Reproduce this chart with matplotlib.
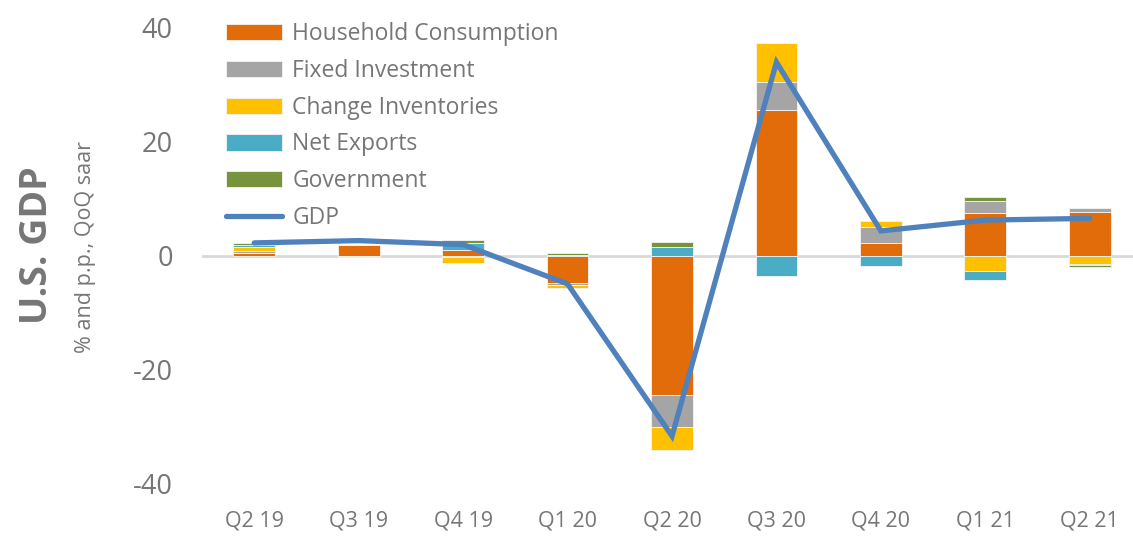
import numpy as np
import matplotlib
matplotlib.use("Agg")
import matplotlib.pyplot as plt

plt.rcParams['font.family'] = ['Open Sans', 'DejaVu Sans']
plt.rcParams['axes.unicode_minus'] = False

quarters = ['Q2 19', 'Q3 19', 'Q4 19', 'Q1 20', 'Q2 20', 'Q3 20', 'Q4 20', 'Q1 21', 'Q2 21']
household = [0.45, 2.0, 1.0, -4.7, -24.4, 25.6, 2.2, 7.5, 7.8]
fixed_inv = [0.45, 0.0, -0.1, -0.4, -5.6, 5.0, 2.9, 2.2, 0.6]
inventories = [0.6, -0.2, -1.2, -0.6, -4.1, 6.8, 1.05, -2.6, -1.4]
net_exports = [0.4, 0.0, 1.35, 0.15, 1.5, -3.5, -1.7, -1.6, -0.25]
government = [0.45, 0.0, 0.45, 0.45, 1.0, 0.0, -0.1, 0.7, -0.35]
gdp = [2.3, 2.7, 2.0, -4.9, -31.6, 34.0, 4.4, 6.3, 6.6]

series = [
    ('Household Consumption', household, '#E36C0A'),
    ('Fixed Investment', fixed_inv, '#A5A5A5'),
    ('Change Inventories', inventories, '#FFC000'),
    ('Net Exports', net_exports, '#4BACC6'),
    ('Government', government, '#77933C'),
]

txt = '#767676'

fig = plt.figure(figsize=(11.33, 5.41), dpi=100)
ax = fig.add_axes([202 / 1133, 57 / 541, 940 / 1133, 456 / 541])

x = np.arange(len(quarters))
pos = np.zeros(len(quarters))
neg = np.zeros(len(quarters))
handles = []
for name, vals, col in series:
    v = np.array(vals)
    bottom = np.where(v >= 0, pos, neg)
    b = ax.bar(x, v, 0.4, bottom=bottom, color=col, label=name,
               edgecolor='#f4f4f4', linewidth=0.6, zorder=2)
    handles.append(b)
    pos = pos + np.where(v >= 0, v, 0)
    neg = neg + np.where(v < 0, v, 0)

ax.axhline(0, color='#D9D9D9', lw=2, zorder=1)
line, = ax.plot(x, gdp, color='#4F81BD', lw=3.8, label='GDP', zorder=3,
                solid_capstyle='round', solid_joinstyle='miter')
handles.append(line)

ax.set_xlim(-0.5, len(quarters) - 0.5)
ax.set_ylim(-40, 40)
ax.set_yticks([-40, -20, 0, 20, 40])
ax.set_xticks(x)
ax.set_xticklabels(quarters)
for s in ax.spines.values():
    s.set_visible(False)
ax.tick_params(axis='y', length=0, pad=21, labelsize=19.5, labelcolor=txt)
ax.tick_params(axis='x', length=0, pad=19, labelsize=15.5, labelcolor=txt)

leg = fig.legend(handles=handles, loc='upper left',
                 bbox_to_anchor=(226 / 1133, 1 - 22 / 541),
                 frameon=False, fontsize=16.5, handlelength=2.45, handleheight=0.7,
                 handletextpad=0.45, labelspacing=0.56, borderpad=0, borderaxespad=0)
for t in leg.get_texts():
    t.set_color(txt)

fig.text(37 / 1133, 1 - 245 / 541, 'U.S. GDP', rotation=90, ha='center', va='center',
         fontsize=27, fontweight='bold', color=txt)
fig.text(86 / 1133, 1 - 247 / 541, '% and p.p., QoQ saar', rotation=90, ha='center',
         va='center', fontsize=15.5, color=txt)

fig.savefig('out.png', dpi=100)
